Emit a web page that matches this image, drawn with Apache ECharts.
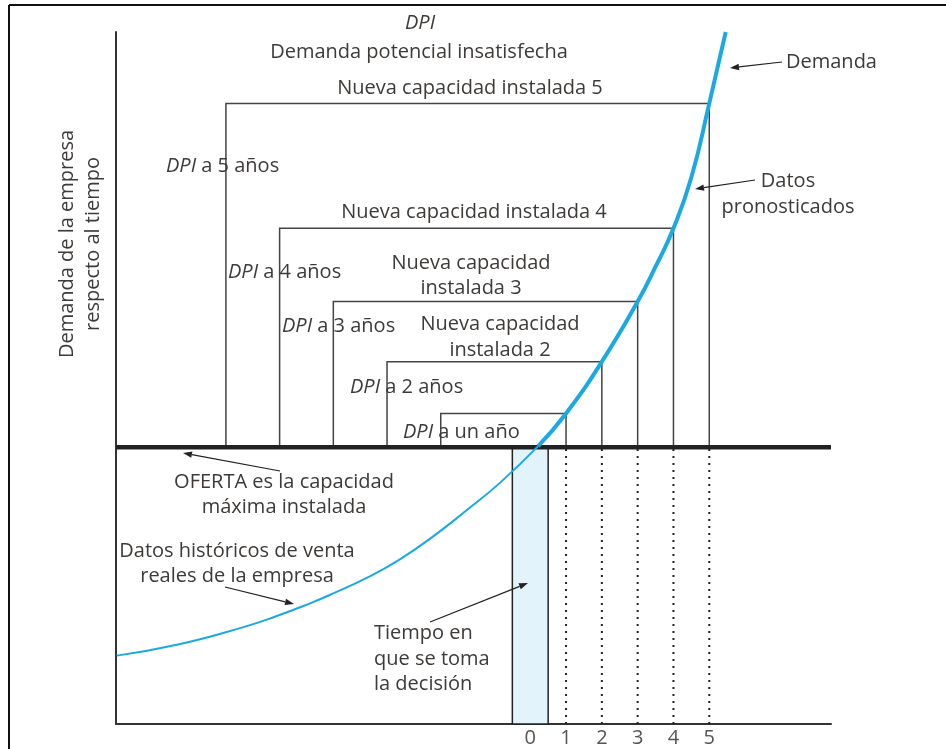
<!DOCTYPE html>
<html>
<head>
<meta charset="utf-8">
<script src="https://cdn.jsdelivr.net/npm/echarts@6/dist/echarts.min.js"></script>
<style>html,body{margin:0;padding:0;background:#fff}#c{width:946px;height:749px}</style>
</head>
<body>
<div id="c"></div>
<script>
// ---- data ----
const xMin = -11.57, xMax = 8.4;          // time axis (years, 0 = decision)
const yMin = 0, yMax = 250;               // demand axis
const xTickLabels = [0, 1, 2, 3, 4, 5];
const offerLevel = 100;                   // OFERTA: max installed capacity
const historicalSales = [[-11.55,24.7],[-9.87,28.6],[-8.01,35.0],[-7.08,39.0],[-6.15,43.6],[-5.5,47.2],[-4.57,52.8],[-3.64,59.5],[-2.71,67.8],[-1.77,77.3],[-0.84,87.2],[0.22,100.4]];
const forecastDemand = [[0.22,100.4],[1,112.2],[2,130.9],[3,152.6],[3.5,165.2],[4,179.1],[4.5,197.5],[5,224.2],[5.46,250]];
const forecastYears = [1, 2, 3, 4, 5];
const newCapacity = [112.2, 130.9, 152.6, 179.1, 224.2];
const bracketStart = [-2.5, -4, -5.5, -7, -8.5];
const decisionWindow = [-0.5, 0.5];

// ---- chart ----
const chart = echarts.init(document.getElementById('c'), null, {renderer: 'canvas'});
const FONT = '"Open Sans", "Noto Sans", sans-serif';
const FS = 20;
const TXT = '#3d3a38';
const bracketData = forecastYears.map((y, i) => [y, newCapacity[i], bracketStart[i]]);

function arrow(x1, y1, x2, y2) {
  const a = Math.atan2(y2 - y1, x2 - x1), L = 9, W = 3.2;
  const bx = x2 - L * Math.cos(a), by = y2 - L * Math.sin(a);
  const px = -Math.sin(a) * W, py = Math.cos(a) * W;
  return [
    {type: 'line', z: 100, shape: {x1, y1, x2: bx, y2: by}, style: {stroke: '#222', lineWidth: 1.2}},
    {type: 'polygon', z: 100, shape: {points: [[x2, y2], [bx + px, by + py], [bx - px, by - py]]}, style: {fill: '#222'}}
  ];
}
function txt(text, x, y, align) {
  return {type: 'text', x, y, z: 100, style: {text, textAlign: align || 'center', textVerticalAlign: 'middle',
    font: FS + 'px ' + FONT, fill: TXT, rich: {i: {fontStyle: 'italic', fontSize: FS, fontFamily: FONT, fill: TXT}}}};
}

const graphics = [
  {type: 'line', shape: {x1: 9, y1: 5, x2: 946, y2: 5}, style: {stroke: '#111', lineWidth: 2}},
  {type: 'line', shape: {x1: 9, y1: 5, x2: 9, y2: 749}, style: {stroke: '#111', lineWidth: 2}},
  txt('{i|DPI}', 420, 23),
  txt('Demanda potencial insatisfecha', 419, 52),
  txt('Nueva capacidad instalada 5', 470, 88),
  txt('Demanda', 786, 62, 'left'),
  txt('Datos', 788, 181),
  txt('pronosticados', 788, 207),
  txt('{i|DPI} a 5 años', 166, 166, 'left'),
  txt('Nueva capacidad instalada 4', 474, 212),
  txt('{i|DPI} a 4 años', 228, 272, 'left'),
  txt('Nueva capacidad', 471, 263),
  txt('instalada 3', 471, 288),
  txt('{i|DPI} a 3 años', 282, 326, 'left'),
  txt('Nueva capacidad', 500, 324),
  txt('instalada 2', 500, 350),
  txt('{i|DPI} a 2 años', 350, 387, 'left'),
  txt('{i|DPI} a un año', 403, 432, 'left'),
  txt('OFERTA es la capacidad', 284, 482),
  txt('máxima instalada', 284, 507),
  txt('Datos históricos de venta', 237, 551),
  txt('reales de la empresa', 237, 576),
  txt('Tiempo en', 374, 633, 'left'),
  txt('que se toma', 374, 659, 'left'),
  txt('la decisión', 374, 684, 'left'),
  {type: 'text', x: 80, y: 244, rotation: Math.PI / 2, z: 100,
   style: {text: 'Demanda de la empresa\nrespecto al tiempo', textAlign: 'center', textVerticalAlign: 'middle',
   font: FS + 'px ' + FONT, lineHeight: 26, fill: TXT}},
  ...arrow(782, 62, 730, 68),
  ...arrow(755, 180, 695, 189),
  ...arrow(280, 471, 183, 453),
  ...arrow(225, 587, 294, 604),
  ...arrow(430, 622, 528, 583)
];

chart.setOption({
  animation: false,
  backgroundColor: '#fff',
  grid: {left: 116, right: 115, top: 32, bottom: 25},
  xAxis: {
    type: 'value', min: xMin, max: xMax,
    axisLine: {show: true, onZero: false, lineStyle: {color: '#333', width: 2}},
    axisTick: {show: false},
    splitLine: {show: false},
    axisLabel: {customValues: xTickLabels, color: '#555', fontSize: FS, fontFamily: FONT, margin: 4,
      formatter: v => String(v)}
  },
  yAxis: {
    type: 'value', min: yMin, max: yMax,
    axisLine: {show: true, onZero: false, lineStyle: {color: '#333', width: 2}},
    axisTick: {show: false}, axisLabel: {show: false}, splitLine: {show: false}
  },
  series: [
    { // decision window
      type: 'custom', z: 1, data: [decisionWindow],
      renderItem: (p, api) => {
        const a = api.coord([api.value(0), offerLevel]), b = api.coord([api.value(1), yMin]);
        return {type: 'rect', shape: {x: a[0], y: a[1], width: b[0] - a[0], height: b[1] - a[1]},
          style: {fill: '#e2f3fb', stroke: '#222', lineWidth: 1.5}};
      }
    },
    { // dotted future lines
      type: 'custom', z: 2, data: forecastYears.map(y => [y]),
      renderItem: (p, api) => {
        const t = api.value(0), a = api.coord([t, yMin]), b = api.coord([t, offerLevel]);
        return {type: 'line', shape: {x1: a[0], y1: a[1], x2: b[0], y2: b[1]},
          style: {stroke: '#222', lineWidth: 2, lineDash: [2, 5]}};
      }
    },
    { // capacity brackets
      type: 'custom', z: 3, data: bracketData,
      renderItem: (p, api) => {
        const t = api.value(0), cap = api.value(1), s = api.value(2);
        const pts = [[s, offerLevel], [s, cap], [t, cap], [t, offerLevel]].map(q => api.coord(q));
        return {type: 'polyline', shape: {points: pts}, style: {stroke: '#444', lineWidth: 1.5, fill: null}};
      }
    },
    { // OFERTA
      type: 'line', z: 4, symbol: 'none', data: [[xMin, offerLevel], [xMax, offerLevel]],
      lineStyle: {color: '#222', width: 4.5}
    },
    {
      type: 'line', z: 5, symbol: 'none', smooth: 0.5, data: historicalSales,
      lineStyle: {color: '#1aa9e2', width: 2}
    },
    {
      type: 'line', z: 5, symbol: 'none', smooth: 0.5, data: forecastDemand,
      lineStyle: {color: '#1aa9e2', width: 4}
    }
  ],
  graphic: graphics
});
</script>
</body>
</html>
